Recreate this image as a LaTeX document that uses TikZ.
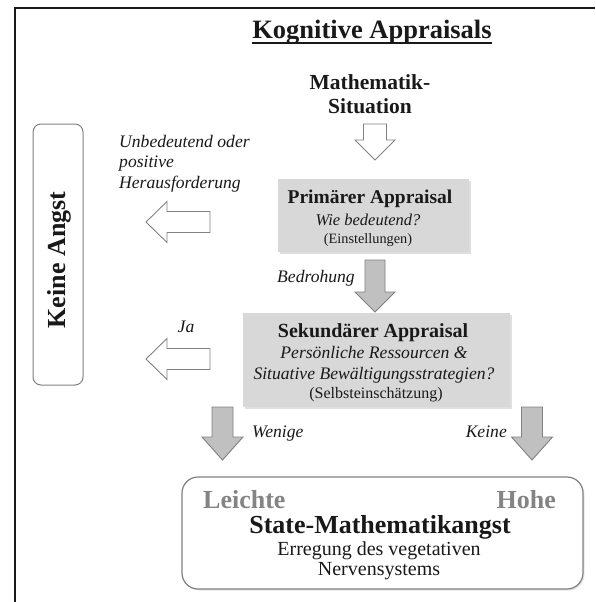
\documentclass[tikz,border=0pt]{standalone}
\usepackage{fontspec}
\setmainfont{Liberation Serif}
\usetikzlibrary{shadows}
\definecolor{boxgray}{RGB}{216,216,216}
\definecolor{arrgray}{RGB}{192,192,192}
\definecolor{edgegray}{RGB}{128,128,128}
\definecolor{softgray}{RGB}{132,132,132}
\definecolor{ink}{RGB}{25,25,25}
\tikzset{
  txt/.style={inner sep=0pt, text=ink, anchor=base},
  titlefont/.style={txt, font=\fontsize{26.5}{30}\selectfont\bfseries},
  headb/.style={txt, font=\fontsize{21.5}{25}\selectfont\bfseries},
  boxhead/.style={txt, font=\fontsize{#1}{#1}\selectfont\bfseries},
  ital/.style={txt, font=\fontsize{17.6}{21}\selectfont\itshape},
  small/.style={txt, font=\fontsize{#1}{#1}\selectfont},
  body/.style={txt, font=\fontsize{20}{22}\selectfont},
  bigbold/.style={txt, font=\fontsize{26}{30}\selectfont\bfseries},
  levelfont/.style={bigbold, text=softgray},
  graybox/.style={fill=boxgray, draw=none, inner sep=0pt,
    drop shadow={opacity=0.25, shadow xshift=1.5pt, shadow yshift=-1.5pt}},
  roundbox/.style={draw=edgegray, fill=white, line width=1pt, inner sep=0pt},
  whitearrow/.style={draw=edgegray, fill=white, line width=0.9pt, line join=miter},
  grayarrow/.style={draw=edgegray, fill=arrgray, line width=0.9pt, line join=miter},
  pics/blockarrow/.style n args={4}{code={
    \path[pic actions] (0,-#1/2) -- (#3-#4,-#1/2) -- (#3-#4,-#2/2) -- (#3,0)
      -- (#3-#4,#2/2) -- (#3-#4,#1/2) -- (0,#1/2) -- cycle;
  }}
}
\begin{document}
\begin{tikzpicture}[x=1pt,y=1pt]
\useasboundingbox (0,0) rectangle (595,-602);
% frame
\coordinate (fbl) at (15,-602);
\coordinate (ftl) at (15,-8);
\coordinate (ftr) at (595,-8);
\draw[line width=1.4pt, ink] (fbl) -- (ftl) -- (ftr);

% title
\node[titlefont] (title) at (372,-39) {Kognitive Appraisals};
\draw[line width=1.3pt, ink] ([yshift=-4pt]title.base west) -- ([yshift=-4pt]title.base east);

% situation
\node[headb] (sit1) at (370,-89) {Mathematik-};
\node[headb] (sit2) at (370,-113) {Situation};

% arrow 1
\coordinate (a1) at (375,-124);
\pic[whitearrow, rotate=-90] at (a1) {blockarrow={23}{40}{36}{20}};

% primary box
\node[graybox, minimum width=191pt, minimum height=73pt] (prim) at (373.5,-215.5) {};
\node[boxhead=19.5] (prim1) at (370,-203) {Primärer Appraisal};
\node[ital, font=\fontsize{16.5}{20}\selectfont\itshape] (prim2) at (368,-225) {Wie bedeutend?};
\node[small=14.3] (prim3) at (368,-243) {(Einstellungen)};

% arrow 2
\coordinate (a2) at (375,-260);
\pic[grayarrow, rotate=-90] at (a2) {blockarrow={20}{40}{52}{20}};
\node[ital] (bedr) at (316,-282) {Bedrohung};

% secondary box
\node[graybox, minimum width=267pt, minimum height=94pt] (sek) at (376.5,-360) {};
\node[boxhead=20] (sek1) at (373,-337) {Sekundärer Appraisal};
\node[ital] (sek2) at (374,-358) {Persönliche Ressourcen \&};
\node[ital] (sek3) at (374,-379) {Situative Bewältigungsstrategien?};
\node[small=16] (sek4) at (376,-398) {(Selbsteinschätzung)};

% keine angst
\node[roundbox, rounded corners=8pt, minimum width=50pt, minimum height=261pt] (keine) at (58,-254.5) {};
\node[bigbold, rotate=90] (keinetxt) at (65,-260) {Keine Angst};

% left arrows
\coordinate (l1) at (210,-222);
\pic[whitearrow, rotate=180] at (l1) {blockarrow={21}{41}{64}{21}};
\coordinate (l2) at (210,-359);
\pic[whitearrow, rotate=180] at (l2) {blockarrow={21}{41}{64}{21}};

\node[ital, anchor=base west] (unb1) at (119,-147) {Unbedeutend oder};
\node[ital, anchor=base west] (unb2) at (119,-167.5) {positive};
\node[ital, anchor=base west] (unb3) at (119,-188) {Herausforderung};
\node[ital] (ja) at (186,-332) {Ja};

% bottom arrows
\coordinate (b1) at (222.5,-407);
\pic[grayarrow, rotate=-90] at (b1) {blockarrow={21}{41}{53}{23}};
\coordinate (b2) at (532,-407);
\pic[grayarrow, rotate=-90] at (b2) {blockarrow={21}{41}{53}{23}};
\node[ital, anchor=base west] (wenige) at (252,-437) {Wenige};
\node[ital, anchor=base east] (keineLbl) at (507,-437) {Keine};

% state box
\node[roundbox, rounded corners=16pt, line width=1.2pt, minimum width=401pt, minimum height=112pt,
  drop shadow={opacity=0.2, shadow xshift=1.5pt, shadow yshift=-1.5pt}] (state) at (382.5,-533) {};
\node[levelfont, anchor=base west] (leichte) at (203,-508) {Leichte};
\node[levelfont, anchor=base east] (hohe) at (556,-508) {Hohe};
\node[bigbold] (state1) at (380,-533) {State-Mathematikangst};
\node[body] (state2) at (379,-555) {Erregung des vegetativen};
\node[body] (state3) at (379,-575) {Nervensystems};
\end{tikzpicture}
\end{document}
